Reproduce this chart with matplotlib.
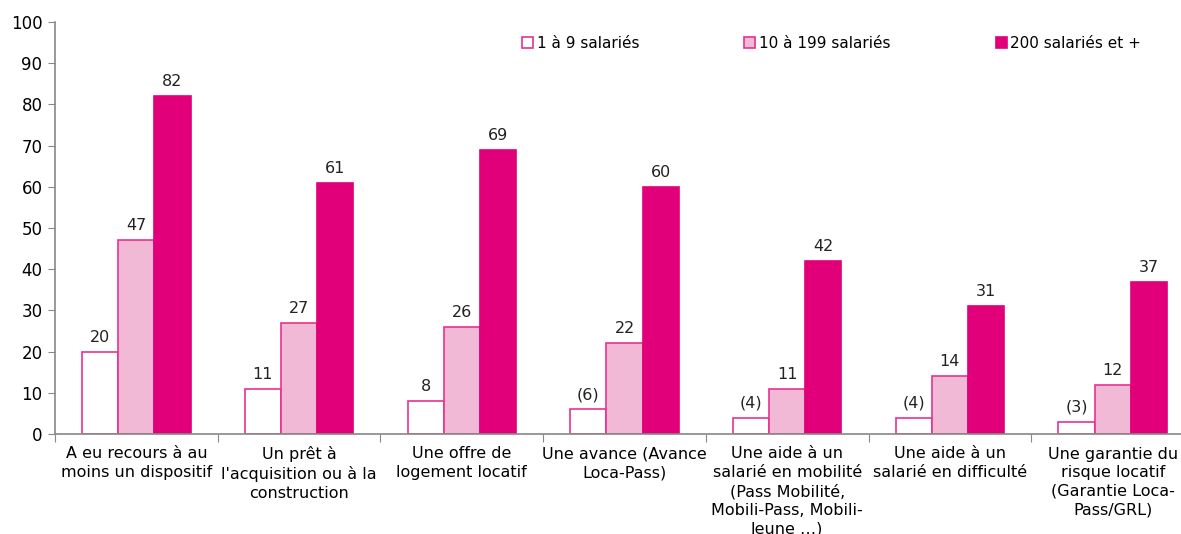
import matplotlib.pyplot as plt
import numpy as np

categories = [
    "A eu recours à au\nmoins un dispositif",
    "Un prêt à\nl'acquisition ou à la\nconstruction",
    "Une offre de\nlogement locatif",
    "Une avance (Avance\nLoca-Pass)",
    "Une aide à un\nsalarié en mobilité\n(Pass Mobilité,\nMobili-Pass, Mobili-\nJeune …)",
    "Une aide à un\nsalarié en difficulté",
    "Une garantie du\nrisque locatif\n(Garantie Loca-\nPass/GRL)",
]
series_names = ["1 à 9 salariés", "10 à 199 salariés", "200 salariés et +"]
small = [20, 11, 8, 6, 4, 4, 3]
medium = [47, 27, 26, 22, 11, 14, 12]
large = [82, 61, 69, 60, 42, 31, 37]
small_labels = ["20", "11", "8", "(6)", "(4)", "(4)", "(3)"]
medium_labels = [str(v) for v in medium]
large_labels = [str(v) for v in large]

magenta = "#E2007A"
pink = "#F2B9D7"
edge = "#E6338F"

fig = plt.figure(figsize=(11.81, 5.34), dpi=100)
ax = fig.add_axes([55 / 1181, 100 / 534, 1139 / 1181, 412 / 534])

x = np.arange(len(categories))
w = 0.222
b1 = ax.bar(x - w, small, w, color="white", edgecolor=edge, linewidth=1.2, label=series_names[0])
b2 = ax.bar(x, medium, w, color=pink, edgecolor=edge, linewidth=1.2, label=series_names[1])
b3 = ax.bar(x + w, large, w, color=magenta, edgecolor=magenta, linewidth=1.2, label=series_names[2])

for bars, labs in [(b1, small_labels), (b2, medium_labels), (b3, large_labels)]:
    ax.bar_label(bars, labels=labs, padding=5, fontsize=11.5, color="#222222")

ax.set_xlim(-0.5, len(categories) - 0.5)
ax.set_ylim(0, 100)
ax.set_yticks(range(0, 101, 10))
ax.set_xticks(np.arange(len(categories) + 1) - 0.5)
ax.set_xticklabels([])
ax.set_xticks(x, minor=True)
ax.set_xticklabels(categories, minor=True, fontsize=11.5, linespacing=1.3, va="top")
ax.tick_params(axis="x", which="minor", length=0, pad=9)
ax.tick_params(axis="x", which="major", length=6, color="#888888")
ax.tick_params(axis="y", length=5, color="#888888", labelsize=12, pad=4)

for s in ["top", "right"]:
    ax.spines[s].set_visible(False)
for s in ["left", "bottom"]:
    ax.spines[s].set_color("#888888")
    ax.spines[s].set_linewidth(1.2)

fig.legend(handles=[b1, b2, b3], loc="upper left", bbox_to_anchor=(522 / 1181, 1 - 36 / 534),
           ncol=3, frameon=False, fontsize=11, handlelength=0.7, handleheight=0.7,
           handletextpad=0.25, columnspacing=6.9, borderpad=0, borderaxespad=0)

plt.savefig("out.png", dpi=100)
